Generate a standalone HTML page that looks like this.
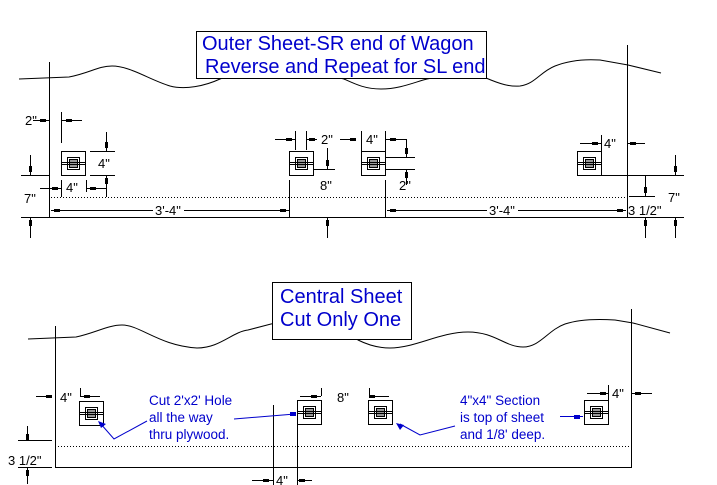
<!DOCTYPE html>
<html><head><meta charset="utf-8"><style>
html,body{margin:0;padding:0;background:#fff}
svg{display:block}
text{font-family:"Liberation Sans",Arial,sans-serif}
.d{font-size:13px;fill:#000}
.b{font-size:13.5px;fill:#0000cc}
.t{font-size:20px;fill:#0000cc}
</style></head><body>
<svg width="717" height="485" viewBox="0 0 717 485" xmlns="http://www.w3.org/2000/svg">
<defs>
<g id="sq">
<rect x="0.5" y="0.5" width="24" height="24" fill="#fff" stroke="#000"/>
<rect x="6.5" y="6.5" width="12" height="12" fill="#fff" stroke="#000"/>
<rect x="8.5" y="8.5" width="8" height="8" fill="#999" stroke="#000"/>
<line x1="0" y1="11.5" x2="25" y2="11.5" stroke="#000"/>
<line x1="0" y1="13.5" x2="25" y2="13.5" stroke="#000"/>
</g>
</defs>
<g stroke="#000" stroke-width="1" fill="none">
<!-- top wave -->
<path d="M19,79 L69,77 C90,73 98,66 112,66 C130,66 150,80 170,86 C185,90 205,86 220,79 C260,62 310,70 344,79 C355,84 365,89 381,89 C400,89 415,82 427,79 C450,74 470,74 486,78 C500,84 510,87 520,86 C535,84 540,72 555,66 C570,60 585,59 600,60 L628,65 L661,73"/>
<line x1="49.5" y1="62" x2="49.5" y2="217"/>
<line x1="627.5" y1="45" x2="627.5" y2="217"/>
<line x1="21" y1="217.5" x2="684" y2="217.5"/>
<line x1="51" y1="197.5" x2="627" y2="197.5" stroke-dasharray="1,2"/>
<!-- left dims -->
<line x1="21" y1="175.5" x2="49" y2="175.5"/>
<line x1="90" y1="151.5" x2="115" y2="151.5"/>
<line x1="90" y1="175.5" x2="115" y2="175.5"/>
<line x1="61.5" y1="112" x2="61.5" y2="143"/>
<line x1="33" y1="120.5" x2="49" y2="120.5"/>
<line x1="61" y1="120.5" x2="82" y2="120.5"/>
<line x1="106.5" y1="132" x2="106.5" y2="151"/>
<line x1="106.5" y1="175" x2="106.5" y2="197"/>
<line x1="30.5" y1="155" x2="30.5" y2="175"/>
<line x1="30.5" y1="217" x2="30.5" y2="238"/>
<line x1="61.5" y1="180" x2="61.5" y2="197"/>
<line x1="86.5" y1="180" x2="86.5" y2="192"/>
<line x1="40" y1="188.5" x2="61" y2="188.5"/>
<line x1="86" y1="188.5" x2="106" y2="188.5"/>
<line x1="51" y1="210.5" x2="153" y2="210.5"/>
<line x1="184" y1="210.5" x2="289" y2="210.5"/>
<!-- sq2 dims -->
<line x1="295.5" y1="131" x2="295.5" y2="150"/>
<line x1="306.5" y1="131" x2="306.5" y2="150"/>
<line x1="275" y1="139.5" x2="295" y2="139.5"/>
<line x1="306" y1="139.5" x2="317" y2="139.5"/>
<line x1="340" y1="139.5" x2="356" y2="139.5"/>
<line x1="289.5" y1="180" x2="289.5" y2="217"/>
<line x1="327.5" y1="148" x2="327.5" y2="169"/>
<line x1="313" y1="169.5" x2="335" y2="169.5"/>
<line x1="327.5" y1="217" x2="327.5" y2="238"/>
<!-- sq3 dims -->
<line x1="361.5" y1="131" x2="361.5" y2="151"/>
<line x1="385.5" y1="131" x2="385.5" y2="151"/>
<line x1="385" y1="139.5" x2="406" y2="139.5"/>
<line x1="406.5" y1="139" x2="406.5" y2="157"/>
<line x1="385" y1="157.5" x2="415" y2="157.5"/>
<line x1="385" y1="169.5" x2="415" y2="169.5"/>
<line x1="406.5" y1="169" x2="406.5" y2="185"/>
<line x1="385.5" y1="180" x2="385.5" y2="217"/>
<line x1="387" y1="210.5" x2="487" y2="210.5"/>
<line x1="518" y1="210.5" x2="626" y2="210.5"/>
<!-- sq4 dims -->
<line x1="601.5" y1="135" x2="601.5" y2="151"/>
<line x1="580" y1="143.5" x2="601" y2="143.5"/>
<line x1="627" y1="143.5" x2="645" y2="143.5"/>
<line x1="601" y1="175.5" x2="684" y2="175.5"/>
<line x1="675.5" y1="155" x2="675.5" y2="175"/>
<line x1="645.5" y1="175" x2="645.5" y2="196"/>
<line x1="629" y1="196.5" x2="655" y2="196.5"/>
<line x1="645.5" y1="217" x2="645.5" y2="238"/>
<line x1="675.5" y1="217" x2="675.5" y2="238"/>

<!-- central wave -->
<path d="M28,339 L76,337 C95,333 108,325 122,325 C140,325 160,346 197,348 C220,348 232,332 248,330 L271,324 C300,318 340,330 358,340 C368,345 378,348 390,348 C415,348 440,332 468,332 C495,332 505,347 523,347 C540,347 548,330 565,324 C580,319 600,319 615,320 L633,323 L670,333"/>
<line x1="55.5" y1="326" x2="55.5" y2="467"/>
<line x1="631.5" y1="309" x2="631.5" y2="467"/>
<line x1="55" y1="467.5" x2="632" y2="467.5"/>
<line x1="58" y1="446.5" x2="630" y2="446.5" stroke-dasharray="1,2"/>
<line x1="36" y1="396.5" x2="52" y2="396.5"/>
<line x1="80.5" y1="388" x2="80.5" y2="396"/>
<line x1="80" y1="396.5" x2="100" y2="396.5"/>
<line x1="27.5" y1="426" x2="27.5" y2="440"/>
<line x1="18" y1="440.5" x2="52" y2="440.5"/>
<line x1="18" y1="467.5" x2="52" y2="467.5"/>
<line x1="27.5" y1="467" x2="27.5" y2="484"/>
<line x1="321.5" y1="388" x2="321.5" y2="396"/>
<line x1="300" y1="396.5" x2="321" y2="396.5"/>
<line x1="273.5" y1="405" x2="273.5" y2="485"/>
<line x1="297.5" y1="400" x2="297.5" y2="485"/>
<line x1="252" y1="480.5" x2="273" y2="480.5"/>
<line x1="297" y1="480.5" x2="312" y2="480.5"/>
<line x1="369.5" y1="388" x2="369.5" y2="396"/>
<line x1="369" y1="396.5" x2="389" y2="396.5"/>
<line x1="608.5" y1="385" x2="608.5" y2="400"/>
<line x1="587" y1="393.5" x2="608" y2="393.5"/>
<line x1="632" y1="393.5" x2="652" y2="393.5"/>
</g>
<g fill="#000">
<rect x="40" y="119" width="6" height="3"/><rect x="66" y="119" width="6" height="3"/>
<rect x="105" y="142" width="3" height="6"/><rect x="105" y="178" width="3" height="6"/>
<rect x="29" y="166" width="3" height="6"/><rect x="29" y="220" width="3" height="6"/>
<rect x="52" y="187" width="6" height="3"/><rect x="90" y="187" width="6" height="3"/>
<rect x="54" y="209" width="6" height="3"/><rect x="280" y="209" width="6" height="3"/>
<rect x="286" y="138" width="6" height="3"/><rect x="309" y="138" width="6" height="3"/><rect x="350" y="138" width="6" height="3"/>
<rect x="326" y="160" width="3" height="6"/><rect x="326" y="220" width="3" height="6"/>
<rect x="390" y="138" width="6" height="3"/><rect x="405" y="148" width="3" height="6"/><rect x="405" y="172" width="3" height="6"/>
<rect x="390" y="209" width="6" height="3"/><rect x="617" y="209" width="6" height="3"/>
<rect x="592" y="142" width="6" height="3"/><rect x="630" y="142" width="6" height="3"/>
<rect x="674" y="166" width="3" height="6"/><rect x="674" y="220" width="3" height="6"/>
<rect x="644" y="187" width="3" height="6"/><rect x="644" y="220" width="3" height="6"/>
<rect x="46" y="395" width="6" height="3"/><rect x="84" y="395" width="6" height="3"/>
<rect x="26" y="434" width="3" height="6"/><rect x="26" y="470" width="3" height="6"/>
<rect x="311" y="395" width="6" height="3"/><rect x="263" y="479" width="6" height="3"/><rect x="299" y="479" width="6" height="3"/>
<rect x="369" y="395" width="6" height="3"/>
<rect x="600" y="392" width="6" height="3"/><rect x="635" y="392" width="6" height="3"/>
</g>
<use href="#sq" x="61" y="151"/><use href="#sq" x="289" y="151"/>
<use href="#sq" x="361" y="151"/><use href="#sq" x="577" y="151"/>
<use href="#sq" x="79" y="401"/><use href="#sq" x="297" y="400"/>
<use href="#sq" x="368" y="400"/><use href="#sq" x="584" y="400"/>
<rect x="196.5" y="31.5" width="290" height="47" fill="#fff" stroke="#000"/>
<text class="t" x="202" y="50">Outer Sheet-SR end of Wagon</text>
<text class="t" x="205" y="73">Reverse and Repeat for SL end</text>
<rect x="272.5" y="282.5" width="139" height="57" fill="#fff" stroke="#000"/>
<text class="t" x="280" y="303">Central Sheet</text>
<text class="t" x="280" y="326">Cut Only One</text>
<g class="d">
<text x="25" y="125">2"</text>
<text x="98" y="168">4"</text>
<text x="66" y="192">4"</text>
<text x="24" y="203">7"</text>
<text x="155" y="215">3'-4"</text>
<text x="321" y="144">2"</text>
<text x="320" y="190">8"</text>
<text x="366" y="144">4"</text>
<text x="399" y="190">2"</text>
<text x="489" y="215">3'-4"</text>
<text x="604" y="148">4"</text>
<text x="628" y="215">3 1/2"</text>
<text x="668" y="202">7"</text>
<text x="60" y="402">4"</text>
<text x="8" y="465">3 1/2"</text>
<text x="337" y="402">8"</text>
<text x="276" y="485">4"</text>
<text x="612" y="398">4"</text>
</g>
<g class="b">
<text x="149" y="405">Cut 2'x2' Hole</text>
<text x="149" y="422">all the way</text>
<text x="149" y="439">thru plywood.</text>
<text x="460" y="405">4"x4" Section</text>
<text x="460" y="422">is top of sheet</text>
<text x="460" y="439">and 1/8' deep.</text>
</g>
<g stroke="#0000cc" fill="none">
<polyline points="147,421 114,439 100,423"/>
<polyline points="234,419 295,414"/>
<polyline points="455,426 420,435 400,424"/>
<line x1="560" y1="416.5" x2="583" y2="416.5"/>
</g>
<g fill="#0000cc">
<polygon points="98,421 106,424 101,428"/>
<rect x="290" y="412" width="6" height="4"/>
<polygon points="396,423 404,425 400,430"/>
<rect x="574" y="415" width="6" height="4"/>
</g>
</svg>
</body></html>
